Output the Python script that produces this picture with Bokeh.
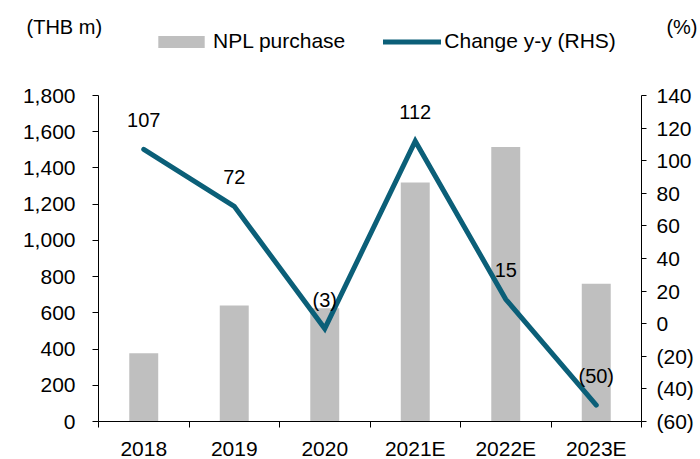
from bokeh.plotting import figure
from bokeh.models import (Range1d, LinearAxis, FixedTicker, NumeralTickFormatter,
                          Legend, LegendItem, Label, ColumnDataSource)
from bokeh.embed import file_html
from bokeh.resources import INLINE
from bokeh.core.properties import value

# ---- data ----
categories = ["2018", "2019", "2020", "2021E", "2022E", "2023E"]
npl_purchase = [377, 640, 625, 1320, 1515, 760]
change_yy = [107, 72, -3, 112, 15, -50]
left_ticks = [0, 200, 400, 600, 800, 1000, 1200, 1400, 1600, 1800]
right_ticks = [-60, -40, -20, 0, 20, 40, 60, 80, 100, 120, 140]

FONT = "Liberation Sans"
BAR = "#bfbfbf"
LINE = "#0b5f78"

def fmt_pct(v):
    return f"({abs(v)})" if v < 0 else f"{v}"

# ---- layout (pixels of the plotting area inside the 700x459 canvas) ----
W, H = 700, 459
PL, PR, PT, PB = 98, 641, 95, 421   # left / right / top / bottom of the axes box
n = len(categories)
lo, hi = left_ticks[0], left_ticks[-1]
rlo, rhi = right_ticks[0], right_ticks[-1]
sx = (PR - PL) / n
sy = (PB - PT) / (hi - lo)
sr = (PB - PT) / (rhi - rlo)
x_range = Range1d(-PL / sx, n + (W - PR) / sx)
y_range = Range1d(lo - (H - PB) / sy, hi + PT / sy)
r_range = Range1d(rlo - (H - PB) / sr, rhi + PT / sr)

xpos = [i + 0.5 for i in range(n)]
src = ColumnDataSource(dict(x=xpos, bar=npl_purchase, chg=change_yy,
                            lbl=[fmt_pct(v) for v in change_yy]))

p = figure(width=W, height=H, output_backend="svg", toolbar_location=None,
           x_range=x_range, y_range=y_range,
           min_border_left=0, min_border_right=0, min_border_top=0,
           min_border_bottom=0, y_axis_location=None, x_axis_location=None)
p.outline_line_color = None
p.xgrid.visible = False
p.ygrid.visible = False
p.extra_y_ranges = {"pct": r_range}

# x axis
xa = LinearAxis(ticker=FixedTicker(ticks=xpos, minor_ticks=list(range(n + 1))),
                fixed_location=lo, bounds=(0, n))
xa.major_label_overrides = {x: c for x, c in zip(xpos, categories)}
xa.major_tick_out = 0
xa.major_tick_in = 0
xa.minor_tick_out = 6
xa.minor_tick_in = 0
xa.minor_tick_line_color = "black"
xa.axis_line_color = "black"
xa.major_label_standoff = 9
xa.major_label_text_font = FONT
xa.major_label_text_font_size = "21px"
xa.major_label_text_color = "black"
p.add_layout(xa, "below")

# left axis
ya = LinearAxis(ticker=FixedTicker(ticks=left_ticks, minor_ticks=[]),
                formatter=NumeralTickFormatter(format="0,0"),
                fixed_location=0, bounds=(lo, hi))
ya.major_tick_out = 6
ya.major_tick_in = 0
ya.major_label_standoff = 17
ya.major_label_text_font = FONT
ya.major_label_text_font_size = "21px"
ya.major_label_text_color = "black"
ya.axis_line_color = "black"
ya.major_tick_line_color = "black"
p.add_layout(ya, "left")

# right axis
ra = LinearAxis(y_range_name="pct", ticker=FixedTicker(ticks=right_ticks, minor_ticks=[]),
                fixed_location=n, bounds=(rlo, rhi))
ra.major_label_overrides = {t: fmt_pct(t) for t in right_ticks}
ra.major_tick_out = 5
ra.major_tick_in = 0
ra.major_label_standoff = 10
ra.major_label_text_font = FONT
ra.major_label_text_font_size = "21px"
ra.major_label_text_color = "black"
ra.axis_line_color = "black"
ra.major_tick_line_color = "black"
p.add_layout(ra, "right")

bars = p.vbar(x="x", top="bar", width=0.32, bottom=0, source=src,
              fill_color=BAR, line_color=None)
line = p.line(x="x", y="chg", source=src, y_range_name="pct", line_color=LINE,
              line_width=5, line_cap="round", line_join="miter")
p.text(x="x", y="chg", text="lbl", source=src, y_range_name="pct",
       text_align="center", text_baseline="middle", y_offset=-29,
       text_font=value(FONT), text_font_size="20px", text_color="black")

legend = Legend(items=[LegendItem(label="NPL purchase", renderers=[bars]),
                       LegendItem(label="Change y-y (RHS)", renderers=[line])],
                orientation="horizontal", location=(152, 406),
                glyph_width=58, glyph_height=15, label_standoff=3, spacing=38,
                padding=0, margin=0, border_line_alpha=0, background_fill_alpha=0,
                label_text_font=FONT, label_text_font_size="21px",
                label_text_color="black")
p.add_layout(legend, "center")

p.add_layout(Label(x=26, y=H - 26, x_units="screen", y_units="screen", text="(THB m)",
                   text_font=FONT, text_font_size="20px", text_baseline="middle",
                   text_color="black"))
p.add_layout(Label(x=697, y=H - 26, x_units="screen", y_units="screen", text="(%)",
                   text_font=FONT, text_font_size="20px", text_baseline="middle",
                   text_align="right", text_color="black"))

open("out.html", "w").write(file_html(p, INLINE))
